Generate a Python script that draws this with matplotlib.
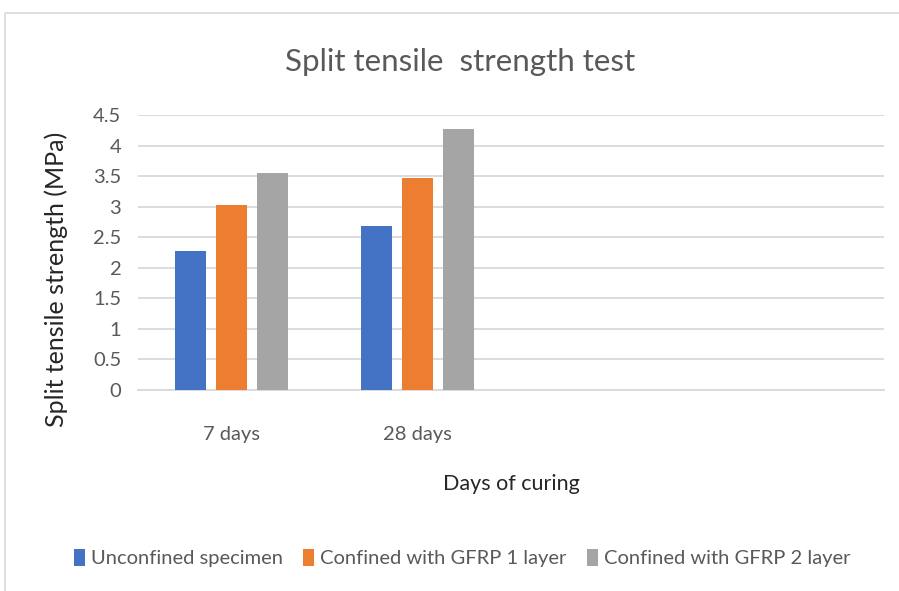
import matplotlib.pyplot as plt
import numpy as np
from matplotlib.patches import Rectangle

# categories (two empty slots on the right, as in the original sheet)
categories = ['7 days', '28 days', '', '']
series_names = ['Unconfined specimen', 'Confined with GFRP 1 layer', 'Confined with GFRP 2 layer']
unconfined = [2.28, 2.69, np.nan, np.nan]
gfrp1 = [3.02, 3.47, np.nan, np.nan]
gfrp2 = [3.55, 4.27, np.nan, np.nan]
colours = ['#4472C4', '#ED7D31', '#A5A5A5']
yticks = [0, 0.5, 1, 1.5, 2, 2.5, 3, 3.5, 4, 4.5]

plt.rcParams['font.family'] = ['Lato', 'DejaVu Sans']
txt = '#595959'

fig = plt.figure(figsize=(8.99, 5.91), dpi=100)
W, H = 899, 591
ax = fig.add_axes([138 / W, 1 - 390 / H, 746 / W, 275 / H])

# chart frame (clipped at right and bottom like the screenshot)
fig.patches.append(Rectangle((5 / W, -0.05), 1.2, 1 - 13 / H + 0.05, transform=fig.transFigure,
                             fill=False, edgecolor='#D9D9D9', linewidth=1.2))

x = np.arange(len(categories))
width = 0.166
step = 0.22
for i, (vals, c) in enumerate(zip([unconfined, gfrp1, gfrp2], colours)):
    ax.bar(x + (i - 1) * step, vals, width, color=c, label=series_names[i], zorder=3)

ax.set_xlim(-0.5, len(categories) - 0.5)
ax.set_ylim(0, 4.5)
ax.set_yticks(yticks)
ax.set_yticklabels([f'{v:g}' for v in yticks])
ax.set_xticks(x)
ax.set_xticklabels(categories)
ax.grid(axis='y', color='#D9D9D9', linewidth=1.3, zorder=0)
for s in ['top', 'right', 'left']:
    ax.spines[s].set_visible(False)
ax.spines['bottom'].set_color('#D9D9D9')
ax.spines['bottom'].set_linewidth(1.3)
ax.tick_params(axis='both', length=0, labelsize=14.5, colors=txt)
ax.tick_params(axis='x', pad=26)
ax.tick_params(axis='y', pad=12)

fig.text(460 / W, 1 - 62 / H, 'Split tensile  strength test', fontsize=22.5, color=txt,
         ha='center', va='center')
ax.set_ylabel('Split tensile strength (MPa)', fontsize=18, color='#262626')
ax.yaxis.set_label_coords(68 / W, 1 - 279 / H, transform=fig.transFigure)
ax.set_xlabel('Days of curing', fontsize=15.5, color='#262626', labelpad=22)

fig.legend(loc='center', bbox_to_anchor=(462 / W, 1 - 558 / H), ncol=3, frameon=False,
           fontsize=14.5, labelcolor=txt, handlelength=0.55, handleheight=0.9, handletextpad=0.3,
           columnspacing=1.0)

fig.savefig('out.png', dpi=100, facecolor='white')
